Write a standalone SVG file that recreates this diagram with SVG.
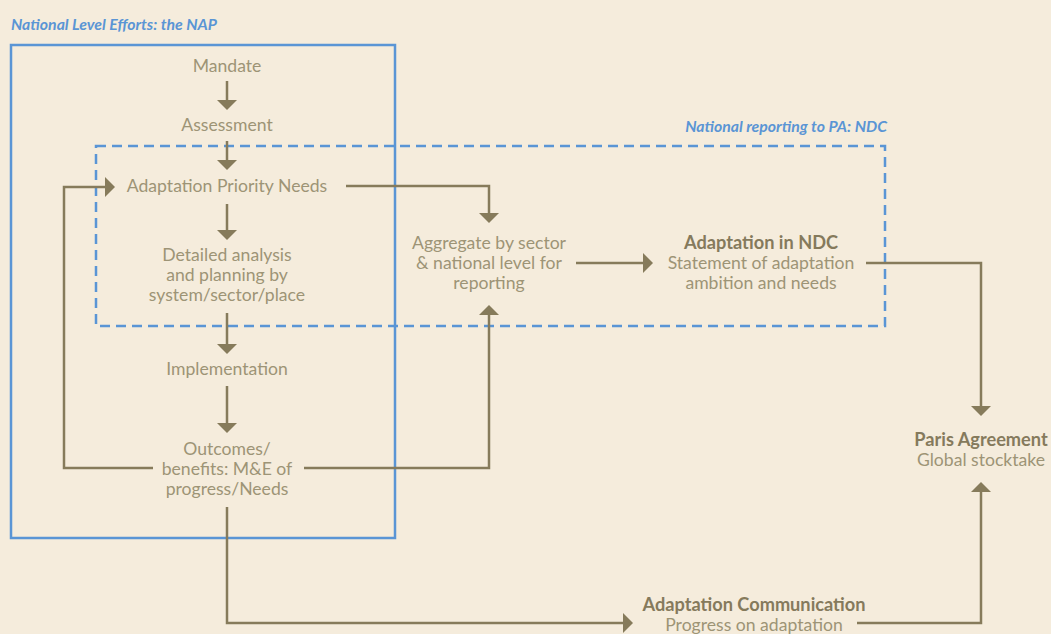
<svg xmlns="http://www.w3.org/2000/svg" width="1051" height="634" viewBox="0 0 1051 634">
<style>
.t{font-family:Lato,"Liberation Sans",sans-serif;font-size:17.6px;fill:#9d9476;text-anchor:middle}
.b{font-family:Lato,"Liberation Sans",sans-serif;font-size:18.2px;fill:#857a5c;font-weight:bold;text-anchor:middle}
.h{font-family:Lato,"Liberation Sans",sans-serif;font-size:15.8px;fill:#5a95d5;font-weight:bold;font-style:italic}
.c{fill:none;stroke:#867b5b;stroke-width:2.5}
</style>
<defs>
<marker id="ah" viewBox="0 0 10 20" refX="0" refY="10" markerWidth="10" markerHeight="20" markerUnits="userSpaceOnUse" orient="auto">
<path d="M0,0 L10,10 L0,20 z" fill="#867b5b"/>
</marker>
</defs>
<rect width="1051" height="634" fill="#f5ecdc"/>
<g id="nap-frame">
<rect x="11" y="45" width="384" height="493" fill="none" stroke="#5a95d5" stroke-width="2.5"/>
<text class="h" x="11" y="30">National Level Efforts: the NAP</text>
</g>
<g id="ndc-frame">
<rect x="96" y="146" width="789" height="180" fill="none" stroke="#5a95d5" stroke-width="2.5" stroke-dasharray="10 6"/>
<text class="h" x="887" y="132" text-anchor="end">National reporting to PA: NDC</text>
</g>
<g id="connectors">
<path class="c" d="M227,81 V100" marker-end="url(#ah)"/>
<path class="c" d="M227,141 V160" marker-end="url(#ah)"/>
<path class="c" d="M227,204 V230" marker-end="url(#ah)"/>
<path class="c" d="M227,313 V344" marker-end="url(#ah)"/>
<path class="c" d="M227,386 V423" marker-end="url(#ah)"/>
<path class="c" d="M153,468 H64 V187 H105" marker-end="url(#ah)"/>
<path class="c" d="M346,186 H489 V213" marker-end="url(#ah)"/>
<path class="c" d="M304,468 H489 V315" marker-end="url(#ah)"/>
<path class="c" d="M576,263 H643" marker-end="url(#ah)"/>
<path class="c" d="M866,263 H981 V406" marker-end="url(#ah)"/>
<path class="c" d="M227,507 V623 H623" marker-end="url(#ah)"/>
<path class="c" d="M857,623 H981 V492" marker-end="url(#ah)"/>
</g>
<g id="mandate"><text class="t" x="227" y="72">Mandate</text></g>
<g id="assessment"><text class="t" x="227" y="131">Assessment</text></g>
<g id="priority-needs"><text class="t" x="227" y="192">Adaptation Priority Needs</text></g>
<g id="detailed-analysis">
<text class="t" x="227" y="261">Detailed analysis</text>
<text class="t" x="227" y="281">and planning by</text>
<text class="t" x="227" y="301">system/sector/place</text>
</g>
<g id="implementation"><text class="t" x="227" y="375">Implementation</text></g>
<g id="outcomes">
<text class="t" x="227" y="455">Outcomes/</text>
<text class="t" x="227" y="475">benefits: M&amp;E of</text>
<text class="t" x="227" y="495">progress/Needs</text>
</g>
<g id="aggregate">
<text class="t" x="489" y="249">Aggregate by sector</text>
<text class="t" x="489" y="269">&amp; national level for</text>
<text class="t" x="489" y="289">reporting</text>
</g>
<g id="ndc">
<text class="b" x="761" y="249">Adaptation in NDC</text>
<text class="t" x="761" y="269">Statement of adaptation</text>
<text class="t" x="761" y="289">ambition and needs</text>
</g>
<g id="paris">
<text class="b" x="981" y="446">Paris Agreement</text>
<text class="t" x="981" y="466">Global stocktake</text>
</g>
<g id="communication">
<text class="b" x="754" y="611">Adaptation Communication</text>
<text class="t" x="754" y="631">Progress on adaptation</text>
</g>
</svg>
